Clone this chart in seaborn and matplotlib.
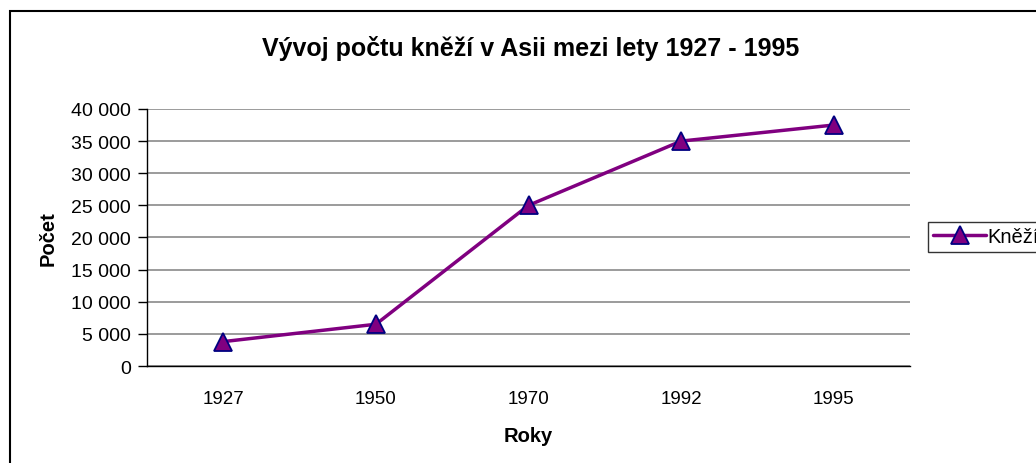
import pandas as pd
import matplotlib.pyplot as plt
import matplotlib.patches as mpatches
from matplotlib.ticker import FixedLocator, FuncFormatter
import seaborn as sns

roky = ["1927", "1950", "1970", "1992", "1995"]
pocet_knezi = [3800, 6500, 25000, 35000, 37500]
y_ticks = [0, 5000, 10000, 15000, 20000, 25000, 30000, 35000, 40000]

df = pd.DataFrame({"Roky": roky, "Počet": pocet_knezi})

sns.set_style("white")
plt.rcParams['font.family'] = ['Liberation Sans', 'DejaVu Sans']
plt.rcParams['text.color'] = 'black'
plt.rcParams['axes.labelcolor'] = 'black'
plt.rcParams['xtick.color'] = 'black'
plt.rcParams['ytick.color'] = 'black'

fig = plt.figure(figsize=(10.36, 4.64), dpi=100)
ax = fig.add_axes([0.1419, 0.209, 0.7365, 0.554])

sns.lineplot(data=df, x="Roky", y="Počet", ax=ax, color="#800080", lw=2.5,
             marker="^", markersize=13, markerfacecolor="#800080",
             markeredgecolor="#000080", markeredgewidth=1.3, label="Kněží")

ax.set_xlim(-0.5, 4.5)
ax.set_ylim(0, 40000)
ax.set_yticks(y_ticks)
ax.yaxis.set_major_formatter(FuncFormatter(lambda v, p: f"{int(v):,}".replace(",", " ")))
ax.grid(axis="y", color="#808080", lw=1.1)
ax.set_axisbelow(True)

ax.xaxis.set_minor_locator(FixedLocator([i - 0.5 for i in range(len(roky) + 1)]))
ax.tick_params(axis="x", which="major", length=0, pad=17, labelsize=13.5)
ax.tick_params(axis="x", which="minor", length=5, width=1, color="black", direction="out")
ax.tick_params(axis="y", which="major", length=6.5, width=1, color="black", direction="out",
               left=True, labelsize=14, pad=5)

for s in ["top", "right"]:
    ax.spines[s].set_visible(False)
for s in ["left", "bottom"]:
    ax.spines[s].set_color("black")
    ax.spines[s].set_linewidth(1)

ax.set_xlabel("Roky", fontsize=14.5, fontweight="bold", labelpad=14)
ax.set_ylabel("Počet", fontsize=14.5, fontweight="bold", labelpad=10)
fig.text(0.512, 0.896, "Vývoj počtu kněží v Asii mezi lety 1927 - 1995",
         ha="center", va="center", fontsize=18, fontweight="bold")

leg = ax.legend(loc="center left", bbox_to_anchor=(1.024, 0.502), frameon=True,
                fancybox=False, fontsize=14.5, borderpad=0.25, handlelength=2.6,
                handletextpad=0.1, borderaxespad=0)
leg.get_frame().set_edgecolor("black")
leg.get_frame().set_linewidth(1)

fig.patches.append(mpatches.Rectangle((10 / 1036, -0.1), 1.2, 0.974 + 0.1, transform=fig.transFigure,
                                      fill=False, edgecolor="black", lw=1.5, clip_on=False))

fig.savefig("out.png", dpi=100)
